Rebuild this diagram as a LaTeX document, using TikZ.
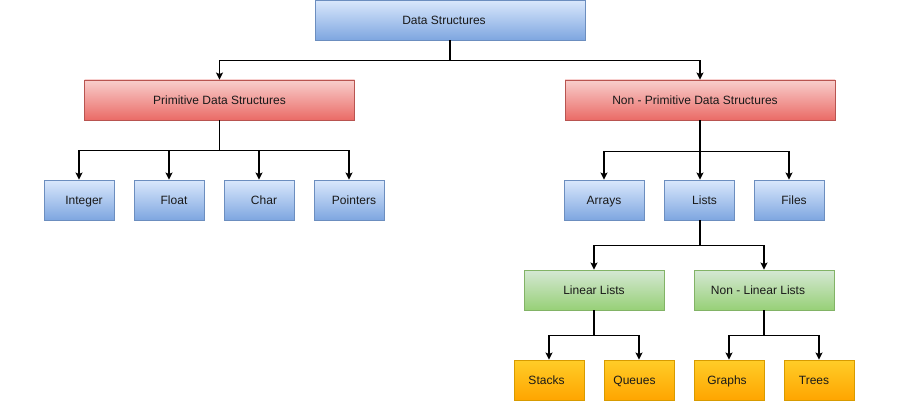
\documentclass[tikz,border=0pt]{standalone}
\usepackage{fontspec}
\setmainfont{Liberation Sans}
\usetikzlibrary{arrows.meta}
\definecolor{bTop}{HTML}{DAE8FC}\definecolor{bBot}{HTML}{7EA6E0}\definecolor{bLine}{HTML}{6C8EBF}
\definecolor{rTop}{HTML}{F8CECC}\definecolor{rBot}{HTML}{EA6B66}\definecolor{rLine}{HTML}{B85450}
\definecolor{gTop}{HTML}{D5E8D4}\definecolor{gBot}{HTML}{97D077}\definecolor{gLine}{HTML}{82B366}
\definecolor{oTop}{HTML}{FFCD28}\definecolor{oBot}{HTML}{FFA500}\definecolor{oLine}{HTML}{D79B00}
\newcommand\shr[2]{\hspace*{#1}#2}
\newcommand\shl[2]{#2\hspace*{#1}}
\tikzset{
  box/.style={rectangle, inner sep=0pt, font=\fontsize{12}{14}\selectfont, text=black!90,
    line width=0.9pt, text height=10pt, text depth=1.5pt},
  bluebox/.style={box, draw=bLine, top color=bTop, bottom color=bBot},
  redbox/.style={box, draw=rLine, top color=rTop, bottom color=rBot},
  greenbox/.style={box, draw=gLine, top color=gTop, bottom color=gBot},
  orangebox/.style={box, draw=oLine, top color=oTop, bottom color=oBot},
  arr/.style={draw=black, line width=1.1pt, -{Stealth[length=7pt,width=7pt,inset=1.5pt]}},
  ln/.style={draw=black, line width=1.1pt}
}
\begin{document}
\begin{tikzpicture}[x=1pt,y=-1pt]
\useasboundingbox (0,0) rectangle (900,420);
% level 0
\node[bluebox, minimum width=270pt, minimum height=40pt] (ds) at (450,20) {\shl{12pt}{Data Structures}};
% level 1
\node[redbox, minimum width=270pt, minimum height=40pt] (prim) at (219.5,100) {Primitive Data Structures};
\node[redbox, minimum width=270pt, minimum height=40pt] (np) at (700,100) {\shl{10pt}{Non - Primitive Data Structures}};
% level 2 primitive
\node[bluebox, minimum width=70pt, minimum height=40pt] (int) at (79,200) {\shr{10pt}{Integer}};
\node[bluebox, minimum width=70pt, minimum height=40pt] (flt) at (169,200) {\shr{10pt}{Float}};
\node[bluebox, minimum width=70pt, minimum height=40pt] (chr) at (259,200) {\shr{10pt}{Char}};
\node[bluebox, minimum width=70pt, minimum height=40pt] (ptr) at (349,200) {\shr{10pt}{Pointers}};
% level 2 non-primitive
\node[bluebox, minimum width=80pt, minimum height=40pt] (arrays) at (604,200) {Arrays};
\node[bluebox, minimum width=70pt, minimum height=40pt] (lists) at (699,200) {\shr{11pt}{Lists}};
\node[bluebox, minimum width=70pt, minimum height=40pt] (files) at (789,200) {\shr{10pt}{Files}};
% level 3
\node[greenbox, minimum width=140pt, minimum height=40pt] (lin) at (594,290) {Linear Lists};
\node[greenbox, minimum width=140pt, minimum height=40pt] (nlin) at (764,290) {\shl{12pt}{Non - Linear Lists}};
% level 4
\node[orangebox, minimum width=70pt, minimum height=40pt] (stk) at (549,380) {\shl{5pt}{Stacks}};
\node[orangebox, minimum width=70pt, minimum height=40pt] (que) at (639,380) {\shl{9pt}{Queues}};
\node[orangebox, minimum width=70pt, minimum height=40pt] (gra) at (729,380) {\shl{4pt}{Graphs}};
\node[orangebox, minimum width=70pt, minimum height=40pt] (tre) at (819,380) {\shl{10pt}{Trees}};
% connectors
\draw[ln] (ds.south) -- ++(0,20) coordinate (j0);
\draw[arr] (j0) -| (prim.north);
\draw[arr] (j0) -| (np.north);

\draw[ln] (prim.south) -- ++(0,30) coordinate (j1);
\foreach \t in {int,flt,chr,ptr}{\draw[arr] (j1) -| (\t.north);}

\draw[ln] (np.south) -- ++(0,31) coordinate (j2);
\draw[arr] (j2) -| (arrays.north);
\draw[arr] (j2) -- (j2 |- lists.north);
\draw[arr] (j2) -| (files.north);

\draw[ln] (lists.south -| j2) -- ++(0,25) coordinate (j3);
\draw[arr] (j3) -| (lin.north);
\draw[arr] (j3) -| (nlin.north);

\draw[ln] (lin.south) -- ++(0,25) coordinate (j4);
\draw[arr] (j4) -| (stk.north);
\draw[arr] (j4) -| (que.north);

\draw[ln] (nlin.south) -- ++(0,25) coordinate (j5);
\draw[arr] (j5) -| (gra.north);
\draw[arr] (j5) -| (tre.north);
\end{tikzpicture}
\end{document}
